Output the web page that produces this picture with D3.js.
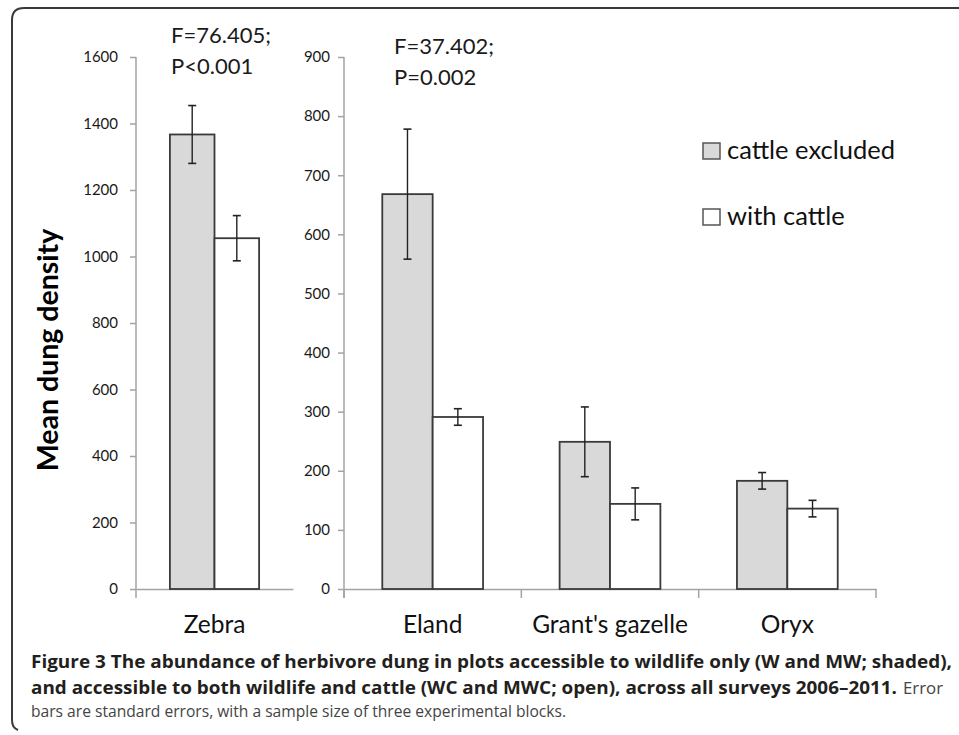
<!DOCTYPE html>
<html>
<head>
<meta charset="utf-8">
<script src="https://cdn.jsdelivr.net/npm/d3@7"></script>
<style>
  html, body { margin: 0; padding: 0; background: #fff; }
  svg { display: block; }
</style>
</head>
<body>
<svg id="chart" width="959" height="735"></svg>
<script>
// ---- data ----
const leftCategories = ["Zebra"];
const rightCategories = ["Eland", "Grant's gazelle", "Oryx"];
const seriesNames = ["cattle excluded", "with cattle"];
const excludedValues = [1367, 668, 249, 183];
const excludedSE = [87, 110, 59, 14];
const withCattleValues = [1055, 291, 144, 136];
const withCattleSE = [68, 14, 27, 14];
const leftTicks = [0, 200, 400, 600, 800, 1000, 1200, 1400, 1600];
const rightTicks = [0, 100, 200, 300, 400, 500, 600, 700, 800, 900];
const leftStats = ["F=76.405;", "P<0.001"];
const rightStats = ["F=37.402;", "P=0.002"];
const yTitle = "Mean dung density";
const captionLine1 = "Figure 3 The abundance of herbivore dung in plots accessible to wildlife only (W and MW; shaded),";
const captionLine2Bold = "and accessible to both wildlife and cattle (WC and MWC; open), across all surveys 2006\u20132011.";
const captionLine2Reg = "Error";
const captionLine3 = "bars are standard errors, with a sample size of three experimental blocks.";

const allCategories = leftCategories.concat(rightCategories);
const rows = allCategories.map((c, i) => ({
  cat: c,
  vals: [
    {key: seriesNames[0], v: excludedValues[i], se: excludedSE[i]},
    {key: seriesNames[1], v: withCattleValues[i], se: withCattleSE[i]}
  ]
}));

const svg = d3.select("#chart");
const FONT = "Lato, 'Open Sans', sans-serif";
const AXIS_COLOR = "#a3a3a3";
const fills = {"cattle excluded": "#d9d9d9", "with cattle": "#ffffff"};

// ---- frame ----
svg.append("path")
  .attr("d", "M959,8 H24 Q12,8 12,20 V720 Q12,728 18,730")
  .attr("fill", "none").attr("stroke", "#3a3a3a").attr("stroke-width", 2);

const yTop = 57, yBottom = 589;

function panel(cats, domainMax, ticks, x0, x1, tickPad, boundaryTicks) {
  const y = d3.scaleLinear().domain([0, domainMax]).range([yBottom, yTop]);
  const x = d3.scaleBand().domain(cats).range([x0, x1]).padding(0);
  const xs = d3.scaleBand().domain(seriesNames).range([0, x.bandwidth()]).paddingInner(0).paddingOuter(0.76);
  const g = svg.append("g");

  // y axis
  const ya = g.append("g").attr("transform", `translate(${x0},0)`)
    .call(d3.axisLeft(y).tickValues(ticks).tickSize(6).tickPadding(tickPad).tickFormat(d3.format("d")));
  ya.select(".domain").attr("stroke", AXIS_COLOR).attr("stroke-width", 1.5).attr("d", `M0,${yTop}V${yBottom + 9}`);
  ya.selectAll(".tick line").attr("stroke", AXIS_COLOR).attr("stroke-width", 1.5);
  ya.selectAll(".tick text").attr("font-family", FONT).attr("font-size", 15).attr("fill", "#1a1a1a");

  // x axis
  const xa = g.append("g").attr("transform", `translate(0,${yBottom})`)
    .call(d3.axisBottom(x).tickSize(0).tickPadding(27));
  xa.select(".domain").attr("stroke", AXIS_COLOR).attr("stroke-width", 1.5);
  xa.selectAll(".tick text").attr("font-family", FONT).attr("font-size", 24.5).attr("fill", "#111");
  if (boundaryTicks) {
    const bounds = cats.map(c => x(c)).concat([x(cats[cats.length - 1]) + x.bandwidth()]);
    g.selectAll("line.bt").data(bounds).join("line").attr("class", "bt")
      .attr("x1", d => d).attr("x2", d => d).attr("y1", yBottom).attr("y2", yBottom + 9)
      .attr("stroke", AXIS_COLOR).attr("stroke-width", 1.5);
  }

  // bars
  const cg = g.selectAll("g.cat").data(rows.filter(r => cats.includes(r.cat))).join("g")
    .attr("class", "cat").attr("transform", d => `translate(${x(d.cat)},0)`);
  cg.selectAll("rect").data(d => d.vals).join("rect")
    .attr("x", d => xs(d.key)).attr("width", xs.bandwidth())
    .attr("y", d => y(d.v)).attr("height", d => y(0) - y(d.v))
    .attr("fill", d => fills[d.key]).attr("stroke", "#3a3a3a").attr("stroke-width", 1.8);
  // error bars
  const eb = cg.selectAll("g.eb").data(d => d.vals).join("g").attr("class", "eb")
    .attr("transform", d => `translate(${xs(d.key) + xs.bandwidth() / 2},0)`);
  eb.append("line").attr("x1", 0).attr("x2", 0).attr("y1", d => y(d.v + d.se)).attr("y2", d => y(d.v - d.se))
    .attr("stroke", "#222").attr("stroke-width", 1.4);
  eb.append("line").attr("x1", -4).attr("x2", 4).attr("y1", d => y(d.v + d.se)).attr("y2", d => y(d.v + d.se))
    .attr("stroke", "#222").attr("stroke-width", 1.6);
  eb.append("line").attr("x1", -4).attr("x2", 4).attr("y1", d => y(d.v - d.se)).attr("y2", d => y(d.v - d.se))
    .attr("stroke", "#222").attr("stroke-width", 1.6);
  return {x, y};
}

panel(leftCategories, 1600, leftTicks, 136, 293, 12, false);
panel(rightCategories, 900, rightTicks, 344, 876, 8, true);

// ---- stats text ----
function stats(lines, x, y0) {
  svg.append("g").selectAll("text").data(lines).join("text")
    .attr("x", x).attr("y", (d, i) => y0 + i * 31)
    .attr("font-family", FONT).attr("font-size", 22).attr("fill", "#1a1a1a").text(d => d);
}
stats(leftStats, 171, 43);
stats(rightStats, 394, 54);

// ---- y title ----
svg.append("text").attr("transform", "translate(58,350) rotate(-90)")
  .attr("text-anchor", "middle").attr("font-family", FONT).attr("font-weight", "bold")
  .attr("font-size", 28.5).attr("fill", "#000").text(yTitle);

// ---- legend ----
const lg = svg.append("g").selectAll("g").data(seriesNames).join("g")
  .attr("transform", (d, i) => `translate(703,${143 + i * 66})`);
lg.append("rect").attr("width", 17).attr("height", 16)
  .attr("fill", d => fills[d]).attr("stroke", "#555").attr("stroke-width", 1.5);
lg.append("text").attr("x", 24).attr("y", 16).attr("font-family", FONT).attr("font-size", 25.5)
  .attr("fill", "#111").text(d => d);

// ---- caption ----
const CAP_FONT = "'Open Sans', Lato, sans-serif";
svg.append("text").attr("x", 31).attr("y", 668).attr("font-family", CAP_FONT).attr("font-weight", "bold")
  .attr("font-size", 17).attr("fill", "#231f20").attr("textLength", 921).attr("lengthAdjust", "spacingAndGlyphs")
  .text(captionLine1);
svg.append("text").attr("x", 31).attr("y", 694).attr("font-family", CAP_FONT).attr("font-weight", "bold")
  .attr("font-size", 17).attr("fill", "#231f20").attr("textLength", 866).attr("lengthAdjust", "spacingAndGlyphs")
  .text(captionLine2Bold);
svg.append("text").attr("x", 903).attr("y", 694).attr("font-family", CAP_FONT)
  .attr("font-size", 17).attr("fill", "#444").attr("textLength", 40).attr("lengthAdjust", "spacingAndGlyphs")
  .text(captionLine2Reg);
svg.append("text").attr("x", 31).attr("y", 717).attr("font-family", CAP_FONT)
  .attr("font-size", 17).attr("fill", "#444").attr("textLength", 535).attr("lengthAdjust", "spacingAndGlyphs")
  .text(captionLine3);
</script>
</body>
</html>
